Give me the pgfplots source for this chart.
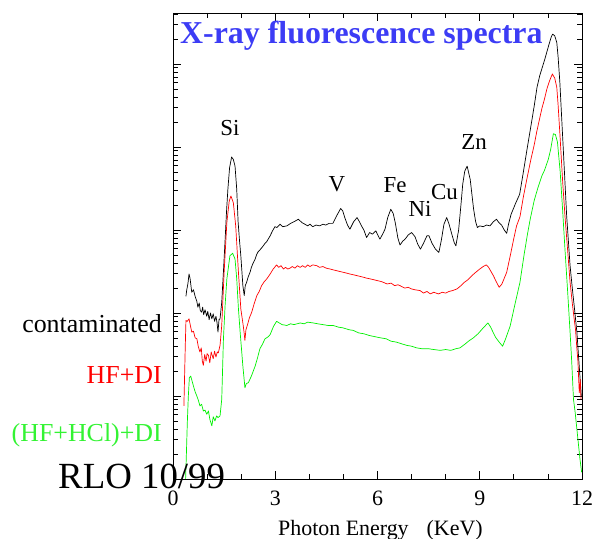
\documentclass[border=0pt]{standalone}
\usepackage{pgfplots}
\pgfplotsset{compat=1.18}
\usepackage{fontspec}
\setmainfont{Liberation Serif}
\definecolor{ttlblue}{RGB}{60,60,245}
\definecolor{grn}{RGB}{0,240,0}
\begin{document}
\begin{tikzpicture}
\useasboundingbox (-173bp,-60bp) rectangle (422bp,479bp);
\begin{axis}[
  at={(0,0)}, anchor=south west,
  scale only axis, width=409bp, height=466bp,
  xmin=0, xmax=12, ymin=-2, ymax=3.615,
  xtick={0,3,6,9,12}, minor xtick={1,2,4,5,7,8,10,11},
  ytick={-1,0,1,2,3}, yticklabels={},
  minor ytick={-1.699,-1.523,-1.398,-1.301,-1.222,-1.155,-1.097,-1.046,
    -0.699,-0.523,-0.398,-0.301,-0.222,-0.155,-0.097,-0.046,
    0.301,0.477,0.602,0.699,0.778,0.845,0.903,0.954,
    1.301,1.477,1.602,1.699,1.778,1.845,1.903,1.954,
    2.301,2.477,2.602,2.699,2.778,2.845,2.903,2.954,
    3.301,3.477,3.602},
  major tick length=8bp, minor tick length=5bp,
  tick style={black, line width=0.7bp},
  axis line style={line width=0.8bp},
  /pgf/number format/assume math mode=true,
  xticklabel style={font=\fontsize{22}{24}\selectfont, yshift=-8bp},
  every axis plot/.append style={line width=0.7bp, line join=round},
]
\addplot[black] coordinates {
(0.38,0.20)(0.40,0.27)(0.44,0.36)(0.47,0.47)(0.50,0.42)(0.55,0.25)(0.60,0.28)(0.65,0.20)
(0.70,0.14)(0.73,0.07)(0.77,0.12)(0.80,0.03)(0.84,0.01)(0.87,0.07)(0.90,-0.02)(0.94,0.04)
(0.99,-0.04)(1.02,0.02)(1.06,-0.08)(1.10,0.00)(1.14,-0.07)(1.18,-0.01)(1.22,-0.10)(1.26,-0.04)
(1.29,-0.11)(1.32,-0.23)(1.35,-0.08)(1.38,-0.07)(1.43,0.13)(1.48,0.50)(1.53,0.89)(1.57,1.22)
(1.61,1.49)(1.66,1.75)(1.72,1.88)(1.77,1.85)(1.82,1.77)(1.87,1.49)(1.91,1.10)(1.95,0.88)
(1.99,0.69)(2.03,0.45)(2.05,0.33)(2.09,0.21)(2.12,0.33)(2.16,0.37)(2.21,0.44)(2.26,0.49)
(2.30,0.55)(2.35,0.60)(2.41,0.65)(2.45,0.70)(2.50,0.74)(2.55,0.76)(2.65,0.81)(2.70,0.84)
(2.75,0.86)(2.85,0.93)(2.92,0.99)(2.99,1.04)(3.05,1.03)(3.14,1.07)(3.22,1.04)(3.34,1.05)
(3.45,1.08)(3.55,1.10)(3.68,1.13)(3.78,1.09)(3.87,1.07)(3.95,1.05)(4.02,1.07)(4.10,1.04)
(4.20,1.06)(4.30,1.05)(4.40,1.07)(4.48,1.06)(4.58,1.08)(4.69,1.08)(4.80,1.17)(4.92,1.26)
(4.98,1.23)(5.04,1.15)(5.12,1.06)(5.19,1.01)(5.30,1.10)(5.40,1.15)(5.47,1.10)(5.53,1.05)
(5.60,1.00)(5.68,0.91)(5.77,0.97)(5.85,0.95)(5.95,0.99)(6.07,0.89)(6.15,0.95)(6.22,1.01)
(6.30,1.15)(6.39,1.25)(6.46,1.20)(6.52,1.09)(6.60,0.90)(6.66,0.82)(6.75,0.87)(6.81,0.89)
(6.90,0.94)(7.00,0.97)(7.10,0.92)(7.18,0.83)(7.26,0.77)(7.35,0.84)(7.45,0.93)(7.51,0.93)
(7.60,0.84)(7.70,0.77)(7.80,0.73)(7.87,0.87)(7.95,1.07)(8.03,1.15)(8.10,1.07)(8.18,0.95)
(8.25,0.85)(8.30,0.81)(8.38,1.00)(8.45,1.31)(8.50,1.55)(8.56,1.71)(8.63,1.77)(8.72,1.61)
(8.82,1.25)(8.88,1.10)(8.93,1.03)(9.00,1.05)(9.10,1.04)(9.20,1.06)(9.30,1.05)(9.40,1.10)
(9.49,1.13)(9.56,1.09)(9.64,1.06)(9.72,1.00)(9.79,0.96)(9.85,1.08)(9.92,1.19)(10.05,1.32)
(10.17,1.43)(10.28,1.70)(10.39,1.98)(10.50,2.25)(10.60,2.50)(10.68,2.72)(10.76,2.86)(10.85,2.98)
(10.91,3.06)(11.02,3.22)(11.10,3.33)(11.14,3.36)(11.20,3.34)(11.26,3.26)(11.30,3.08)(11.35,2.78)
(11.45,1.98)(11.55,1.17)(11.65,0.57)(11.72,0.28)(11.77,0.09)(11.85,-0.23)(11.91,-0.59)(11.98,-1.00)
};
\addplot[red] coordinates {
(0.32,-1.12)(0.36,-0.40)(0.38,-0.09)(0.42,-0.10)(0.47,-0.07)(0.51,-0.15)(0.55,-0.23)(0.60,-0.22)
(0.65,-0.30)(0.70,-0.31)(0.74,-0.40)(0.79,-0.47)(0.83,-0.42)(0.86,-0.58)(0.89,-0.63)(0.93,-0.50)
(0.97,-0.58)(1.00,-0.49)(1.04,-0.51)(1.08,-0.60)(1.12,-0.47)(1.18,-0.55)(1.22,-0.46)(1.26,-0.53)
(1.30,-0.47)(1.33,-0.48)(1.38,-0.39)(1.43,-0.15)(1.50,0.49)(1.58,1.09)(1.65,1.35)(1.70,1.41)
(1.77,1.33)(1.84,1.05)(1.92,0.49)(1.99,0.05)(2.06,-0.15)(2.09,-0.25)(2.11,-0.33)(2.14,-0.20)
(2.18,-0.15)(2.24,-0.06)(2.31,0.01)(2.38,0.11)(2.46,0.21)(2.53,0.26)(2.60,0.33)(2.68,0.38)
(2.75,0.41)(2.85,0.47)(2.94,0.53)(3.04,0.58)(3.10,0.55)(3.17,0.57)(3.24,0.53)(3.30,0.55)
(3.37,0.53)(3.43,0.54)(3.50,0.56)(3.58,0.54)(3.65,0.57)(3.73,0.55)(3.80,0.57)(3.88,0.55)
(3.95,0.58)(4.02,0.56)(4.10,0.58)(4.22,0.57)(4.30,0.55)(4.40,0.56)(4.50,0.54)(4.61,0.53)
(4.70,0.52)(4.80,0.51)(4.90,0.50)(5.00,0.49)(5.10,0.48)(5.19,0.47)(5.30,0.46)(5.40,0.45)
(5.50,0.44)(5.60,0.43)(5.68,0.42)(5.80,0.41)(5.90,0.40)(6.00,0.39)(6.10,0.38)(6.17,0.37)
(6.28,0.35)(6.40,0.36)(6.50,0.33)(6.60,0.34)(6.66,0.33)(6.80,0.30)(6.90,0.31)(7.00,0.29)
(7.10,0.28)(7.25,0.27)(7.35,0.24)(7.45,0.26)(7.55,0.23)(7.65,0.25)(7.79,0.23)(7.90,0.25)
(8.00,0.24)(8.10,0.26)(8.20,0.27)(8.33,0.29)(8.45,0.33)(8.55,0.37)(8.65,0.40)(8.72,0.43)
(8.85,0.48)(9.00,0.53)(9.10,0.56)(9.19,0.58)(9.26,0.55)(9.33,0.50)(9.40,0.45)(9.48,0.38)
(9.57,0.31)(9.65,0.35)(9.72,0.42)(9.79,0.49)(9.90,0.70)(10.00,0.90)(10.08,1.05)(10.18,1.16)
(10.28,1.40)(10.38,1.61)(10.50,1.85)(10.60,2.03)(10.67,2.18)(10.75,2.33)(10.82,2.46)(10.90,2.58)
(10.97,2.70)(11.05,2.80)(11.13,2.88)(11.20,2.83)(11.26,2.72)(11.30,2.50)(11.36,2.10)(11.43,1.60)
(11.50,1.17)(11.58,0.75)(11.65,0.37)(11.72,0.10)(11.77,-0.07)(11.81,-0.20)(11.85,-0.43)(11.88,-0.58)
(11.92,-0.96)(11.95,-0.80)(11.97,-1.04)
};
\addplot[grn] coordinates {
(0.37,-2.00)(0.40,-1.60)(0.42,-1.32)(0.45,-1.00)(0.48,-0.78)(0.52,-0.76)(0.56,-0.82)(0.60,-0.88)
(0.65,-0.95)(0.70,-1.00)(0.75,-1.06)(0.79,-1.12)(0.84,-1.10)(0.89,-1.18)(0.94,-1.17)(0.99,-1.22)
(1.04,-1.18)(1.08,-1.28)(1.14,-1.36)(1.18,-1.25)(1.23,-1.30)(1.28,-1.24)(1.32,-1.26)(1.38,-1.24)
(1.43,-1.04)(1.48,-0.31)(1.53,0.10)(1.58,0.41)(1.67,0.69)(1.75,0.72)(1.82,0.65)(1.87,0.41)
(1.92,0.05)(1.97,-0.23)(2.05,-0.64)(2.11,-0.90)(2.15,-0.85)(2.21,-0.84)(2.30,-0.76)(2.41,-0.64)
(2.48,-0.54)(2.55,-0.43)(2.62,-0.38)(2.70,-0.31)(2.78,-0.29)(2.85,-0.26)(2.95,-0.16)(3.04,-0.10)
(3.12,-0.12)(3.20,-0.14)(3.34,-0.15)(3.45,-0.13)(3.55,-0.14)(3.73,-0.12)(3.85,-0.13)(3.95,-0.11)
(4.12,-0.12)(4.25,-0.13)(4.40,-0.14)(4.55,-0.15)(4.70,-0.15)(4.85,-0.17)(5.00,-0.18)(5.15,-0.20)
(5.29,-0.21)(5.45,-0.24)(5.60,-0.25)(5.75,-0.27)(5.98,-0.29)(6.10,-0.30)(6.25,-0.31)(6.40,-0.34)
(6.55,-0.35)(6.70,-0.37)(6.86,-0.39)(7.00,-0.40)(7.15,-0.42)(7.30,-0.43)(7.49,-0.43)(7.65,-0.44)
(7.84,-0.45)(8.00,-0.44)(8.15,-0.45)(8.30,-0.43)(8.42,-0.42)(8.55,-0.38)(8.70,-0.33)(8.81,-0.30)
(8.95,-0.25)(9.10,-0.18)(9.24,-0.12)(9.32,-0.17)(9.40,-0.24)(9.46,-0.29)(9.55,-0.34)(9.67,-0.40)
(9.75,-0.32)(9.89,-0.16)(10.03,0.10)(10.18,0.37)(10.30,0.70)(10.40,0.95)(10.48,1.13)(10.60,1.36)
(10.70,1.50)(10.82,1.65)(10.90,1.72)(11.01,1.85)(11.08,1.97)(11.16,2.16)(11.22,2.15)(11.28,2.06)
(11.36,1.70)(11.43,1.25)(11.50,0.77)(11.58,0.25)(11.65,-0.23)(11.70,-0.60)(11.75,-1.04)(11.80,-1.20)
(11.86,-1.44)(11.94,-1.76)(11.99,-1.92)
};
\end{axis}
\node[anchor=base west, text=ttlblue, font=\fontsize{32}{34}\selectfont\bfseries, inner sep=0pt] at (7bp,435bp) {X-ray fluorescence spectra};
\begin{scope}[every node/.style={anchor=base, inner sep=0pt, font=\fontsize{23}{26}\selectfont}]
\node at (57bp,343bp) {Si};
\node at (164bp,287bp) {V};
\node at (222bp,286bp) {Fe};
\node at (247bp,262bp) {Ni};
\node at (271.5bp,279bp) {Cu};
\node at (301bp,329bp) {Zn};
\end{scope}
\begin{scope}[every node/.style={anchor=base east, inner sep=0pt, font=\fontsize{26}{29}\selectfont}]
\node at (-11bp,146bp) {contaminated};
\node[text=red] at (-11bp,95.7bp) {HF+DI};
\node[text=grn!80!white] at (-11bp,37.3bp) {(HF+HCl)+DI};
\end{scope}
\node[anchor=base west, inner sep=0pt, font=\fontsize{37}{40}\selectfont] at (-115bp,-9.3bp) {RLO 10/99};
\node[anchor=base west, inner sep=0pt, font=\fontsize{22}{24}\selectfont] at (105bp,-56bp) {Photon Energy\hspace{18bp}(KeV)};
\end{tikzpicture}
\end{document}
